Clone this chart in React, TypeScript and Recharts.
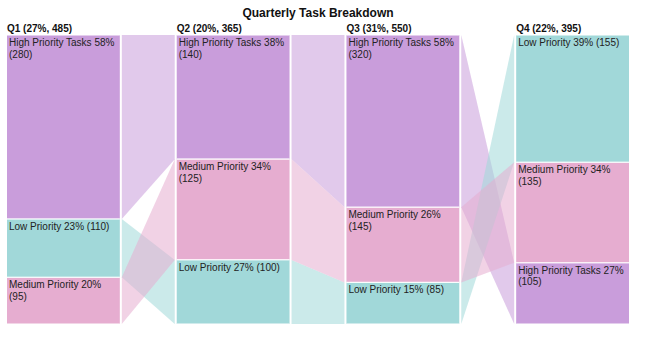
import { ComposedChart, Area, XAxis, YAxis } from "recharts";

const quarters = ["Q1", "Q2", "Q3", "Q4"];
const categories = ["High Priority Tasks", "Medium Priority", "Low Priority"];

// task counts shown in the labels
const highValues = [280, 140, 320, 105];
const mediumValues = [95, 125, 145, 135];
const lowValues = [110, 100, 85, 155];

// drawn share of each column (%)
const highShare = [63.7, 43.0, 59.6, 21.2];
const mediumShare = [16.2, 34.9, 26.0, 34.8];
const lowShare = [20.1, 22.2, 14.4, 44.0];

const colors: Record<string, string> = {
  "High Priority Tasks": "#C99DDB",
  "Medium Priority": "#E6ADD0",
  "Low Priority": "#A1D8D9",
};

// column width and gap (in x-axis units, one unit per quarter)
const COL_W = 113 / 170;
const GAP = 2 / 170;
const X_MAX = 3 + COL_W;

const valuesByCat: Record<string, number[]> = {
  "High Priority Tasks": highValues,
  "Medium Priority": mediumValues,
  "Low Priority": lowValues,
};
const shareByCat: Record<string, number[]> = {
  "High Priority Tasks": highShare,
  "Medium Priority": mediumShare,
  "Low Priority": lowShare,
};

const totals = quarters.map((_, i) => categories.reduce((s, c) => s + valuesByCat[c][i], 0));
const grandTotal = totals.reduce((a, b) => a + b, 0);

// segment extents per quarter, biggest on top, y in [0, 1]
const segments = quarters.map((_, i) => {
  const shareSum = categories.reduce((s, c) => s + shareByCat[c][i], 0);
  const sorted = [...categories].sort((a, b) => valuesByCat[b][i] - valuesByCat[a][i]);
  const out: Record<string, [number, number]> = {};
  let cum = 0;
  sorted.forEach((c) => {
    const top = 1 - cum / shareSum;
    cum += shareByCat[c][i];
    out[c] = [1 - cum / shareSum, top];
  });
  return out;
});

const headers = quarters.map(
  (q, i) => `${q} (${Math.round((totals[i] / grandTotal) * 100)}%, ${totals[i]})`
);

const labelLines = (c: string, i: number) => {
  const v = valuesByCat[c][i];
  const pct = Math.round((v / totals[i]) * 100);
  const full = `${c} ${pct}% (${v})`;
  return full.length > 23 ? [`${c} ${pct}%`, `(${v})`] : [full];
};

const ribbonOrder = ["High Priority Tasks", "Low Priority", "Medium Priority"];

export default function App() {
  const ribbons = [0, 1, 2].flatMap((i) =>
    ribbonOrder.map((c) => ({
      key: `rib-${i}-${c}`,
      color: colors[c],
      data: [
        { x: i + COL_W + GAP, r: segments[i][c] },
        { x: i + 1 - GAP, r: segments[i + 1][c] },
      ],
    }))
  );

  const columns = quarters.flatMap((_, i) =>
    categories.map((c) => ({
      key: `col-${i}-${c}`,
      cat: c,
      q: i,
      color: colors[c],
      data: [
        { x: i, r: segments[i][c] },
        { x: i + COL_W, r: segments[i][c] },
      ],
    }))
  );

  return (
    <div
      style={{
        position: "fixed",
        left: 0,
        top: 0,
        width: 650,
        height: 361,
        background: "#fff",
        fontFamily: "Arial, 'Liberation Sans', sans-serif",
      }}
    >
      <div
        style={{
          position: "absolute",
          left: 7,
          top: 6,
          width: 622,
          textAlign: "center",
          fontSize: 12,
          lineHeight: "14px",
          fontWeight: "bold",
          color: "#111",
        }}
      >
        Quarterly Task Breakdown
      </div>
      <ComposedChart width={650} height={361} margin={{ top: 15, right: 21, bottom: 37, left: 7 }}>
        <XAxis
          dataKey="x"
          type="number"
          orientation="top"
          domain={[0, X_MAX]}
          ticks={[0, 1, 2, 3]}
          height={20}
          axisLine={false}
          tickLine={false}
          tickSize={0}
          tickMargin={3}
          interval={0}
          allowDuplicatedCategory={false}
          tick={(props: any) => (
            <text
              x={props.x}
              y={props.y}
              textAnchor="start"
              fontSize={10}
              fontWeight="bold"
              fill="#111"
            >
              {headers[props.payload.value]}
            </text>
          )}
        />
        <YAxis hide type="number" domain={[0, 1]} />
        {ribbons.map((r) => (
          <Area
            key={r.key}
            data={r.data}
            dataKey="r"
            type="linear"
            fill={r.color}
            fillOpacity={0.55}
            stroke="none"
            dot={false}
            activeDot={false}
            isAnimationActive={false}
          />
        ))}
        {columns.map((col) => (
          <Area
            key={col.key}
            data={col.data}
            dataKey="r"
            type="linear"
            fill={col.color}
            fillOpacity={1}
            stroke="#fff"
            strokeWidth={1}
            dot={false}
            activeDot={false}
            isAnimationActive={false}
            label={(p: any) => {
              if (p.index !== 0) return null;
              const lines = labelLines(col.cat, col.q);
              return (
                <text key={`lbl-${col.key}`} x={p.x + 2} y={p.y + 11} fontSize={10} fill="#222">
                  {lines.map((ln, k) => (
                    <tspan key={k} x={p.x + 2} dy={k === 0 ? 0 : 11.5}>
                      {ln}
                    </tspan>
                  ))}
                </text>
              );
            }}
          />
        ))}
      </ComposedChart>
    </div>
  );
}
